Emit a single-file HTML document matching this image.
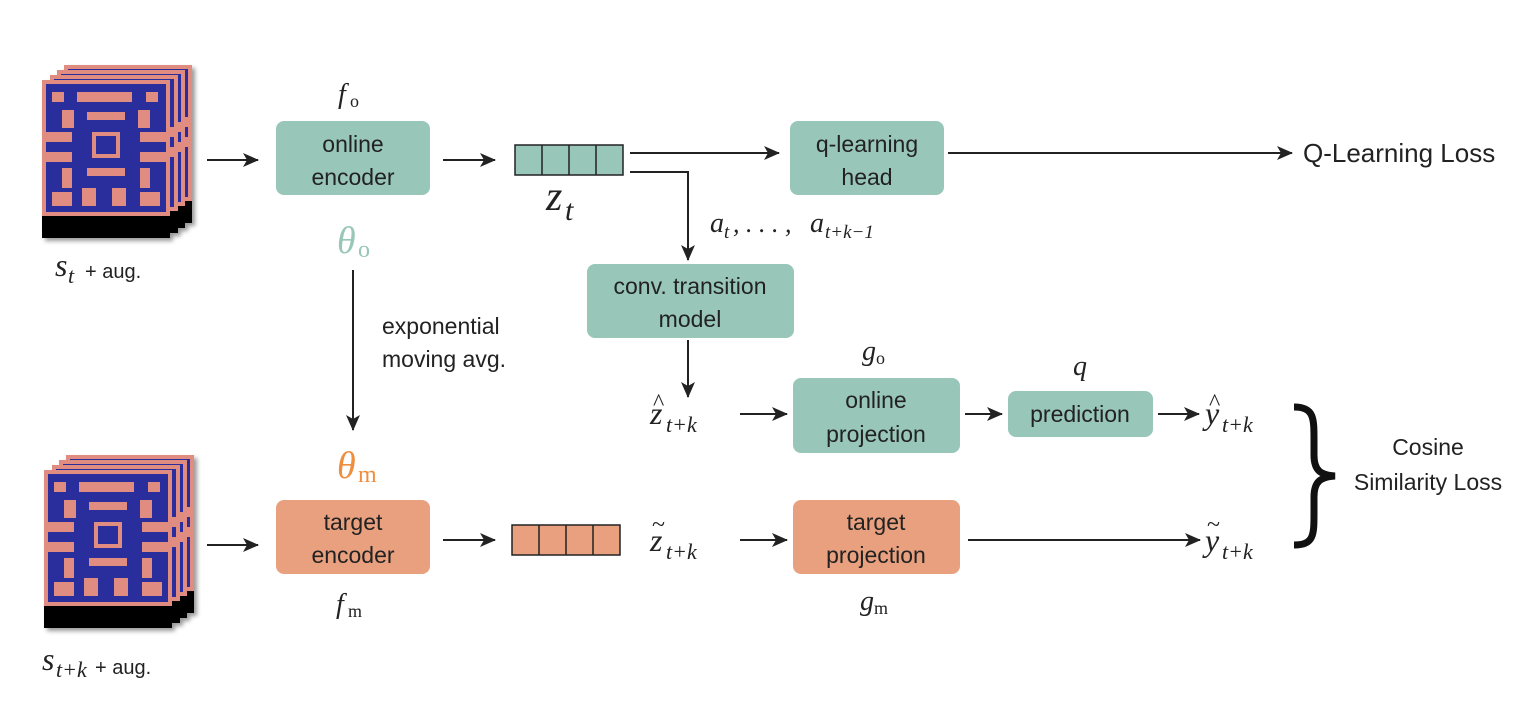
<!DOCTYPE html>
<html><head><meta charset="utf-8"><style>
html,body{margin:0;padding:0;background:#fff;}
svg{display:block;}
.s{font-family:"Liberation Sans",sans-serif;fill:#222;}
.m{font-family:"Liberation Serif",serif;font-style:italic;fill:#222;}
.r{font-family:"Liberation Serif",serif;fill:#222;}
</style></head><body>
<svg width="1538" height="716" viewBox="0 0 1538 716" xmlns="http://www.w3.org/2000/svg">
<defs>
<marker id="a" markerWidth="16" markerHeight="14" refX="15" refY="7" orient="auto" markerUnits="userSpaceOnUse" viewBox="0 0 16 14">
<path d="M0,0 L16,7 L0,14 L4,7 z" fill="#222"/></marker>
<g id="pac">
<rect x="0" y="0" width="128" height="158" fill="#2b2f9c"/>
<g fill="#e08c80">
<rect x="0" y="0" width="128" height="4"/><rect x="0" y="0" width="4" height="134"/><rect x="124" y="0" width="4" height="134"/>
<rect x="10" y="12" width="12" height="10"/><rect x="35" y="12" width="55" height="10"/><rect x="104" y="12" width="12" height="10"/>
<rect x="20" y="30" width="12" height="18"/><rect x="45" y="32" width="38" height="8"/><rect x="96" y="30" width="12" height="18"/>
<rect x="0" y="52" width="30" height="10"/><rect x="98" y="52" width="30" height="10"/>
<rect x="50" y="52" width="28" height="4"/><rect x="50" y="52" width="4" height="26"/><rect x="74" y="52" width="4" height="26"/><rect x="50" y="74" width="28" height="4"/>
<rect x="0" y="72" width="30" height="10"/><rect x="98" y="72" width="30" height="10"/>
<rect x="20" y="88" width="10" height="20"/><rect x="98" y="88" width="10" height="20"/>
<rect x="45" y="88" width="38" height="8"/>
<rect x="10" y="112" width="20" height="14"/><rect x="40" y="108" width="14" height="18"/><rect x="70" y="108" width="14" height="18"/><rect x="98" y="112" width="20" height="14"/>
<rect x="0" y="132" width="128" height="4"/>
</g>
<rect x="0" y="136" width="128" height="22" fill="#000"/>
</g>
<filter id="sh"><feDropShadow dx="3" dy="3" stdDeviation="2" flood-opacity="0.4"/></filter>
</defs>

<g filter="url(#sh)">
<use href="#pac" x="64" y="65"/><use href="#pac" x="57" y="70"/><use href="#pac" x="50" y="75"/><use href="#pac" x="42" y="80"/>
</g>
<g filter="url(#sh)">
<use href="#pac" x="66" y="455"/><use href="#pac" x="59" y="460"/><use href="#pac" x="52" y="465"/><use href="#pac" x="44" y="470"/>
</g>

<text x="55" y="276" class="m" font-size="32">s</text><text x="68" y="283" class="m" font-size="22">t</text><text x="85" y="278" class="s" font-size="20">+ aug.</text>
<text x="42" y="670" class="m" font-size="32">s</text><text x="56" y="677" class="m" font-size="22">t+k</text><text x="95" y="674" class="s" font-size="20">+ aug.</text>

<g stroke="#222" stroke-width="2" fill="none" marker-end="url(#a)">
<line x1="207" y1="160" x2="258" y2="160"/>
<line x1="207" y1="545" x2="258" y2="545"/>
<line x1="443" y1="160" x2="495" y2="160"/>
<line x1="443" y1="540" x2="495" y2="540"/>
<line x1="630" y1="153" x2="779" y2="153"/>
<polyline points="630,172 688,172 688,260"/>
<line x1="948" y1="153" x2="1292" y2="153"/>
<line x1="688" y1="340" x2="688" y2="397"/>
<line x1="740" y1="414" x2="787" y2="414"/>
<line x1="965" y1="414" x2="1002" y2="414"/>
<line x1="1158" y1="414" x2="1199" y2="414"/>
<line x1="353" y1="270" x2="353" y2="430"/>
<line x1="740" y1="540" x2="787" y2="540"/>
<line x1="968" y1="540" x2="1200" y2="540"/>
</g>

<g fill="#98c6b8">
<rect x="276" y="121" width="154" height="74" rx="8"/>
<rect x="790" y="121" width="154" height="74" rx="8"/>
<rect x="587" y="264" width="207" height="74" rx="8"/>
<rect x="793" y="378" width="167" height="75" rx="8"/>
<rect x="1008" y="391" width="145" height="46" rx="8"/>
</g>
<g fill="#e9a07f">
<rect x="276" y="500" width="154" height="74" rx="8"/>
<rect x="793" y="500" width="167" height="74" rx="8"/>
</g>
<g class="s" font-size="23" text-anchor="middle">
<text x="353" y="152">online</text><text x="353" y="185">encoder</text>
<text x="867" y="152">q-learning</text><text x="867" y="185">head</text>
<text x="690" y="294">conv. transition</text><text x="690" y="327">model</text>
<text x="876" y="408">online</text><text x="876" y="442">projection</text>
<text x="1080" y="422">prediction</text>
<text x="353" y="530">target</text><text x="353" y="563">encoder</text>
<text x="876" y="530">target</text><text x="876" y="563">projection</text>
</g>

<g stroke="#222" stroke-width="1.5">
<rect x="515" y="145" width="108" height="30" fill="#98c6b8"/>
<line x1="542" y1="145" x2="542" y2="175"/><line x1="569" y1="145" x2="569" y2="175"/><line x1="596" y1="145" x2="596" y2="175"/>
<rect x="512" y="525" width="108" height="30" fill="#e9a07f"/>
<line x1="539" y1="525" x2="539" y2="555"/><line x1="566" y1="525" x2="566" y2="555"/><line x1="593" y1="525" x2="593" y2="555"/>
</g>

<text x="546" y="210" class="m" font-size="42">z</text><text x="565" y="220" class="m" font-size="30">t</text>
<text x="338" y="103" class="m" font-size="28">f</text><text x="350" y="107" class="r" font-size="18">o</text>
<text x="337" y="253" class="m" font-size="38" style="fill:#98c6b8">θ</text><text x="358" y="257" class="r" font-size="24" style="fill:#98c6b8">o</text>
<text x="337" y="478" class="m" font-size="38" style="fill:#ef8e3e">θ</text><text x="358" y="482" class="r" font-size="24" style="fill:#ef8e3e">m</text>
<text x="336" y="613" class="m" font-size="28">f</text><text x="348" y="617" class="r" font-size="18">m</text>
<text x="862" y="360" class="m" font-size="28">g</text><text x="876" y="364" class="r" font-size="18">o</text>
<text x="860" y="610" class="m" font-size="28">g</text><text x="874" y="614" class="r" font-size="18">m</text>
<text x="1073" y="375" class="m" font-size="28">q</text>
<text x="382" y="334" class="s" font-size="23">exponential</text>
<text x="382" y="367" class="s" font-size="23">moving avg.</text>
<text x="710" y="232" class="m" font-size="28">a</text><text x="724" y="238" class="m" font-size="19">t</text><text x="733" y="232" class="m" font-size="26">, . . . ,</text><text x="810" y="232" class="m" font-size="28">a</text><text x="825" y="238" class="m" font-size="19">t+k−1</text>
<text x="650" y="424" class="m" font-size="32">z</text><text x="653" y="410" class="r" font-size="24">^</text><text x="666" y="432" class="m" font-size="22">t+k</text>
<text x="650" y="551" class="m" font-size="32">z</text><text x="652" y="532" class="r" font-size="24">~</text><text x="666" y="559" class="m" font-size="22">t+k</text>
<text x="1205" y="424" class="m" font-size="32">y</text><text x="1209" y="410" class="r" font-size="24">^</text><text x="1222" y="432" class="m" font-size="22">t+k</text>
<text x="1205" y="551" class="m" font-size="32">y</text><text x="1207" y="532" class="r" font-size="24">~</text><text x="1222" y="559" class="m" font-size="22">t+k</text>
<text x="1303" y="162" class="s" font-size="26">Q-Learning Loss</text>
<text x="1428" y="455" class="s" font-size="23" text-anchor="middle">Cosine</text>
<text x="1428" y="490" class="s" font-size="23" text-anchor="middle">Similarity Loss</text>
<path d="M1294,407 C1314,407 1314,418 1314,440 L1314,455 C1314,470 1320,475 1335,476 C1320,477 1314,482 1314,497 L1314,513 C1314,535 1314,545 1294,545" stroke="#111" stroke-width="7" fill="none"/>
</svg>
</body></html>
